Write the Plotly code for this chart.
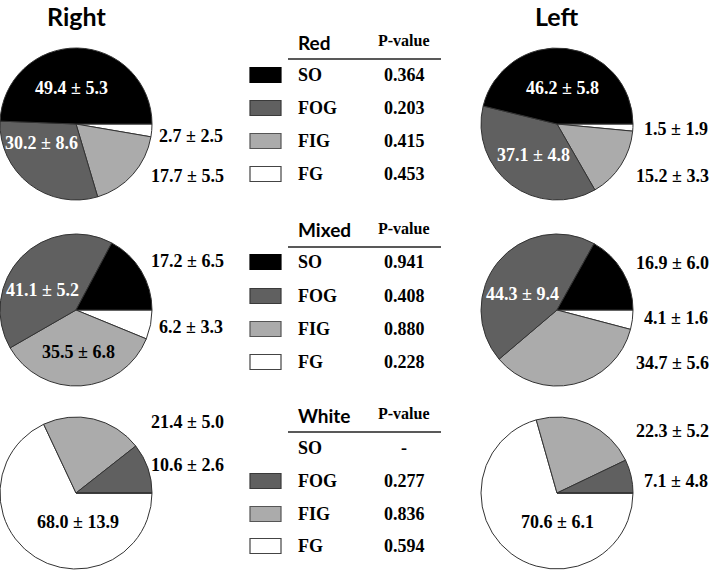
import plotly.graph_objects as go

W, H = 709, 570

# ---------------- data ----------------
fiber_types = ["SO", "FOG", "FIG", "FG"]

right_red = [49.4, 30.2, 17.7, 2.7]
right_red_sd = [5.3, 8.6, 5.5, 2.5]
left_red = [46.2, 37.1, 15.2, 1.5]
left_red_sd = [5.8, 4.8, 3.3, 1.9]

right_mixed = [17.2, 41.1, 35.5, 6.2]
right_mixed_sd = [6.5, 5.2, 6.8, 3.3]
left_mixed = [16.9, 44.3, 34.7, 4.1]
left_mixed_sd = [6.0, 9.4, 5.6, 1.6]

right_white = [0.0, 10.6, 21.4, 68.0]
right_white_sd = [0.0, 2.6, 5.0, 13.9]
left_white = [0.0, 7.1, 22.3, 70.6]
left_white_sd = [0.0, 4.8, 5.2, 6.1]

p_red = ["0.364", "0.203", "0.415", "0.453"]
p_mixed = ["0.941", "0.408", "0.880", "0.228"]
p_white = ["-", "0.277", "0.836", "0.594"]

muscles = ["Red", "Mixed", "White"]
sides = ["Right", "Left"]

# ---------------- style ----------------
slice_colors = ["#000000", "#606060", "#ababab", "#ffffff"]
box_borders = ["#000000", "#3a3a3a", "#555555", "#444444"]
SERIF = "Liberation Serif"
SANS = "Lato"
VAL_SIZE = 18

def px(x):
    return x / W

def py(y):
    return 1 - y / H

# pie centres in pixels (from top-left) and radius
R = 76
pie_cx = {"Right": 76, "Left": 557}
pie_cy = {"Red": 124, "Mixed": 310, "White": 493}

values = {
    ("Right", "Red"): (right_red, right_red_sd),
    ("Left", "Red"): (left_red, left_red_sd),
    ("Right", "Mixed"): (right_mixed, right_mixed_sd),
    ("Left", "Mixed"): (left_mixed, left_mixed_sd),
    ("Right", "White"): (right_white, right_white_sd),
    ("Left", "White"): (left_white, left_white_sd),
}

# label placement for each slice (centre x, centre y, colour); None = no label
label_pos = {
    ("Right", "Red"): [(71, 88, "white"), (41, 143, "white"),
                       (188, 176, "black"), (191, 136, "black")],
    ("Left", "Red"): [(562, 88, "white"), (533, 155, "white"),
                      (672, 176, "black"), (676, 129, "black")],
    ("Right", "Mixed"): [(188, 261, "black"), (42, 290, "white"),
                         (78, 352, "black"), (191, 327, "black")],
    ("Left", "Mixed"): [(672, 263, "black"), (522, 294, "white"),
                        (672, 363, "black"), (676, 318, "black")],
    ("Right", "White"): [None, (188, 465, "black"),
                         (188, 422, "black"), (78, 522, "black")],
    ("Left", "White"): [None, (676, 481, "black"),
                        (672, 431, "black"), (557, 522, "black")],
}

fig = go.Figure()
annotations = []

for (side, muscle), (vals, sds) in values.items():
    cx, cy = pie_cx[side], pie_cy[muscle]
    # slices run counter-clockwise from 3 o'clock in SO, FOG, FIG, FG order,
    # which equals clockwise from 3 o'clock in reversed order
    fig.add_trace(go.Pie(
        labels=fiber_types[::-1],
        values=vals[::-1],
        sort=False,
        direction="clockwise",
        rotation=90,
        textinfo="none",
        hoverinfo="label+value",
        showlegend=False,
        marker=dict(colors=slice_colors[::-1], line=dict(color="#333333", width=1)),
        domain=dict(x=[px(cx - R), px(cx + R)], y=[py(cy + R), py(cy - R)]),
    ))
    for i, pos in enumerate(label_pos[(side, muscle)]):
        if pos is None:
            continue
        x, y, col = pos
        annotations.append(dict(
            x=px(x), y=py(y), xref="paper", yref="paper",
            xanchor="center", yanchor="middle", showarrow=False,
            text=f"<b>{vals[i]:.1f} ± {sds[i]:.1f}</b>",
            font=dict(family=SERIF, size=VAL_SIZE, color=col),
        ))

# column titles
for side in sides:
    annotations.append(dict(x=px(pie_cx[side]), y=1, xref="paper", yref="paper",
                            showarrow=False, text=f"<b>{side}</b>",
                            font=dict(family=SANS, size=25, color="black"),
                            xanchor="center", yanchor="top", borderpad=0))

# middle tables
header_y = {"Red": 42, "Mixed": 230, "White": 415}
line_y = {"Red": 59, "Mixed": 247, "White": 432}
row_y = {"Red": [75, 108, 141, 174], "Mixed": [262, 296, 329, 362], "White": [448, 481, 514, 546]}
pvals = {"Red": p_red, "Mixed": p_mixed, "White": p_white}

shapes = []
for muscle in muscles:
    annotations.append(dict(x=px(296), y=py(header_y[muscle]), xref="paper", yref="paper",
                            showarrow=False, text=f"<b>{muscle}</b>",
                            font=dict(family=SANS, size=19, color="black"),
                            xanchor="left", yanchor="middle"))
    annotations.append(dict(x=px(404), y=py(header_y[muscle] - 2), xref="paper", yref="paper",
                            showarrow=False, text="<b>P-value</b>",
                            font=dict(family=SERIF, size=16, color="black"),
                            xanchor="center", yanchor="middle"))
    shapes.append(dict(type="line", xref="paper", yref="paper",
                       x0=px(288), x1=px(441), y0=py(line_y[muscle]), y1=py(line_y[muscle]),
                       line=dict(color="#222222", width=1.5)))
    for i, ft in enumerate(fiber_types):
        ry = row_y[muscle][i]
        annotations.append(dict(x=px(296), y=py(ry), xref="paper", yref="paper",
                                showarrow=False, text=f"<b>{ft}</b>",
                                font=dict(family=SERIF, size=18, color="black"),
                                xanchor="left", yanchor="middle"))
        annotations.append(dict(x=px(404), y=py(ry), xref="paper", yref="paper",
                                showarrow=False, text=f"<b>{pvals[muscle][i]}</b>",
                                font=dict(family=SERIF, size=18, color="black"),
                                xanchor="center", yanchor="middle"))
        if pvals[muscle][i] != "-":
            shapes.append(dict(type="rect", xref="paper", yref="paper",
                               x0=px(250), x1=px(281), y0=py(ry + 7.5), y1=py(ry - 7.5),
                               fillcolor=slice_colors[i],
                               line=dict(color=box_borders[i], width=1.2)))

fig.update_layout(
    width=W, height=H, autosize=False,
    margin=dict(l=0, r=0, t=0, b=0),
    paper_bgcolor="white", plot_bgcolor="white",
    annotations=annotations, shapes=shapes,
    showlegend=False,
)

fig.write_html(
    "out.html",
    config={"displayModeBar": False},
    post_script="document.body.style.margin='0';document.body.style.overflow='hidden';",
)
